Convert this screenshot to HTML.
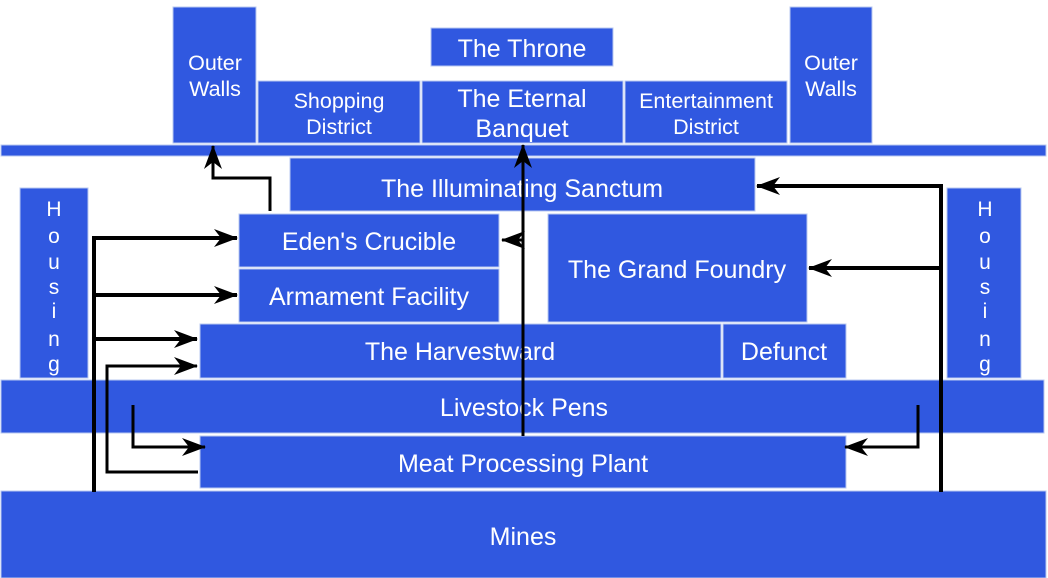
<!DOCTYPE html>
<html><head><style>
html,body{margin:0;padding:0;background:#fff;}
svg{display:block;}
text{font-family:"Liberation Sans",Arial,sans-serif;fill:#fff;text-anchor:middle;}
</style></head><body>
<svg width="1048" height="578" viewBox="0 0 1048 578" xmlns="http://www.w3.org/2000/svg">
<defs>
<marker id="a" viewBox="0 0 24 18" refX="23" refY="9" markerWidth="24" markerHeight="18" markerUnits="userSpaceOnUse" orient="auto">
<path d="M0,0 L24,9 L0,18 L7,9 Z" fill="#000"/>
</marker>
</defs>
<g fill="#3058e0" stroke="#b8c8f0" stroke-width="1">
<rect x="173" y="7" width="83" height="136"/>
<rect x="790" y="7" width="82" height="136"/>
<rect x="431" y="28" width="182" height="38"/>
<rect x="258" y="81" width="162" height="62"/>
<rect x="422" y="81" width="201" height="62"/>
<rect x="625" y="81" width="162" height="62"/>
<rect x="1" y="145" width="1045" height="11"/>
<rect x="290" y="158" width="465" height="53"/>
<rect x="239" y="214" width="260" height="53"/>
<rect x="239" y="269" width="260" height="53"/>
<rect x="548" y="214" width="259" height="108"/>
<rect x="200" y="324" width="521" height="54"/>
<rect x="723" y="324" width="123" height="54"/>
<rect x="20" y="188" width="68" height="190"/>
<rect x="947" y="188" width="74" height="190"/>
<rect x="1" y="380" width="1043" height="53"/>
<rect x="200" y="436" width="646" height="52"/>
<rect x="1" y="491" width="1045" height="87"/>
</g>
<g font-size="21.5">
<text x="215" y="70">Outer</text><text x="215" y="96">Walls</text>
<text x="831" y="70">Outer</text><text x="831" y="96">Walls</text>
<text x="339" y="108">Shopping</text><text x="339" y="134">District</text>
<text x="706" y="108">Entertainment</text><text x="706" y="134">District</text>
</g>
<g font-size="25">
<text x="522" y="57">The Throne</text>
<text x="522" y="107">The Eternal</text><text x="522" y="137">Banquet</text>
<text x="522" y="197">The Illuminating Sanctum</text>
<text x="369" y="250">Eden's Crucible</text>
<text x="369" y="305">Armament Facility</text>
<text x="677" y="278">The Grand Foundry</text>
<text x="460" y="360">The Harvestward</text>
<text x="784" y="360">Defunct</text>
<text x="524" y="416">Livestock Pens</text>
<text x="523" y="472">Meat Processing Plant</text>
<text x="523" y="545">Mines</text>
</g>
<g font-size="21">
<text x="54" y="216">H</text><text x="54" y="243">o</text><text x="54" y="269">u</text><text x="54" y="294">s</text><text x="54" y="318">i</text><text x="54" y="346">n</text><text x="54" y="371">g</text>
<text x="985" y="216">H</text><text x="985" y="243">o</text><text x="985" y="269">u</text><text x="985" y="294">s</text><text x="985" y="318">i</text><text x="985" y="346">n</text><text x="985" y="371">g</text>
</g>
<g fill="none" stroke="#000" stroke-width="4">
<path d="M94,492 V238 H237" marker-end="url(#a)"/>
<path d="M94,295 H237" marker-end="url(#a)"/>
<path d="M94,339 H197" marker-end="url(#a)"/>
<path d="M198,472 H107 V366 H197" stroke-width="3" marker-end="url(#a)"/>
<path d="M133,405 V447 H205" stroke-width="3" marker-end="url(#a)"/>
<path d="M270,211 V178 H213 V146" stroke-width="3" marker-end="url(#a)"/>
<path d="M523,436 V145" stroke-width="3" marker-end="url(#a)"/>
<path d="M523,240 H502" stroke-width="3" marker-end="url(#a)"/>
<path d="M941,492 V186 H757" marker-end="url(#a)"/>
<path d="M941,268 H809" marker-end="url(#a)"/>
<path d="M918,405 V447 H845" stroke-width="3" marker-end="url(#a)"/>
</g>
</svg>
</body></html>
